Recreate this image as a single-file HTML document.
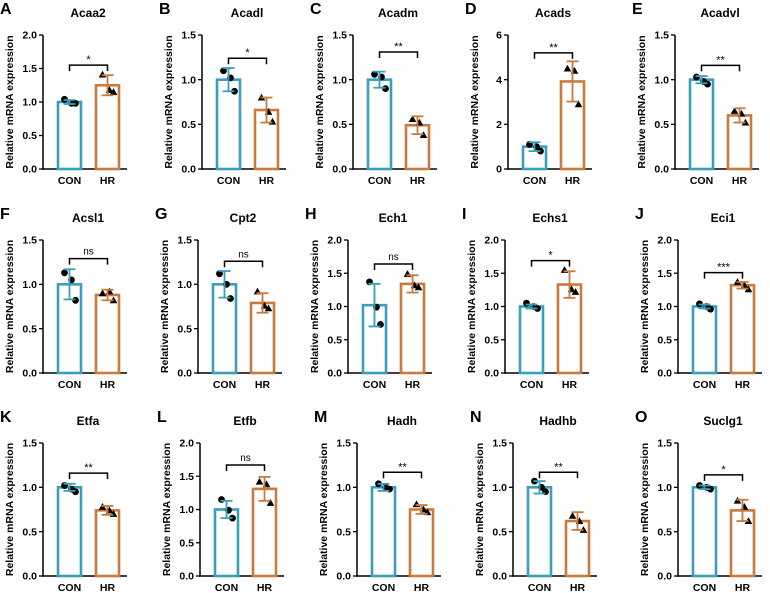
<!DOCTYPE html>
<html><head><meta charset="utf-8"><style>
html,body{margin:0;padding:0;background:#fff;}
svg{display:block;font-family:"Liberation Sans",Arial,sans-serif;}
</style></head><body>
<svg id="fig" width="770" height="593" viewBox="0 0 770 593" xmlns="http://www.w3.org/2000/svg"></svg>
<script>
const letters=["A","B","C","D","E","F","G","H","I","J","K","L","M","N","O"];
const genes=["Acaa2","Acadl","Acadm","Acads","Acadvl","Acsl1","Cpt2","Ech1","Echs1","Eci1","Etfa","Etfb","Hadh","Hadhb","Suclg1"];
const yMax=[2,1.5,1.5,6,1.5,1.5,1.5,2,2,2,1.5,2,1.5,1.5,1.5];
const yStep=[0.5,0.5,0.5,2,0.5,0.5,0.5,0.5,0.5,0.5,0.5,0.5,0.5,0.5,0.5];
const conMean=[1.0,1.0,1.0,1.0,1.0,1.0,1.0,1.02,1.0,1.0,1.0,1.0,1.0,1.0,1.0];
const conSd=[0.03,0.13,0.09,0.2,0.04,0.17,0.15,0.32,0.03,0.03,0.04,0.13,0.04,0.07,0.02];
const conPts=[[1.04,0.98,0.98],[1.1,1.02,0.87],[1.06,1.03,0.9],[1.1,1.0,0.8],[1.03,0.98,0.95],[1.13,1.05,0.82],[1.12,1.0,0.84],[1.37,0.99,0.73],[1.05,1.0,0.97],[1.04,1.0,0.96],[1.02,0.98,0.95],[1.15,0.99,0.87],[1.04,1.0,0.98],[1.07,1.0,0.95],[1.02,1.0,0.98]];
const hrMean=[1.25,0.66,0.49,3.92,0.6,0.88,0.79,1.34,1.33,1.32,0.74,1.31,0.75,0.62,0.74];
const hrSd=[0.15,0.14,0.1,0.9,0.08,0.06,0.11,0.13,0.2,0.05,0.05,0.18,0.05,0.1,0.12];
const hrPts=[[1.41,1.18,1.15],[0.8,0.64,0.53],[0.56,0.52,0.38],[4.5,4.4,2.9],[0.65,0.62,0.52],[0.9,0.92,0.82],[0.92,0.76,0.73],[1.49,1.32,1.29],[1.55,1.26,1.22],[1.37,1.32,1.26],[0.78,0.74,0.7],[1.42,1.38,1.1],[0.81,0.75,0.72],[0.68,0.62,0.52],[0.85,0.78,0.62]];
const sigLabels=["*","*","**","**","**","ns","ns","ns","*","***","**","ns","**","**","*"];
const bracketY=[1.55,1.24,1.31,5.2,1.16,1.29,1.26,1.64,1.69,1.51,1.16,1.67,1.17,1.17,1.14];
const groupLabels=["CON","HR"];

const axisXs=[[43,202,353,508,675],[43,198,348,505,678],[43,200,357,513,678]];
const rowTop=[35,240,443], rowZero=[169,373,576];
const TEAL="#3a9fb8", ORANGE="#c97a3c";
const NS="http://www.w3.org/2000/svg";
const svg=document.getElementById("fig");
function mk(tag,attrs,parent){const e=document.createElementNS(NS,tag);for(const k in attrs)e.setAttribute(k,attrs[k]);(parent||svg).appendChild(e);return e;}

for(let i=0;i<15;i++){
  const r=Math.floor(i/5), c=i%5;
  const ax=axisXs[r][c], top=rowTop[r], zero=rowZero[r];
  const y=v=>zero-(v/yMax[i])*(zero-top);
  const g=mk("g",{});
  
  
  const L=mk("text",{x:ax-43,y:top-21,"font-size":16,"font-weight":"bold"},g);L.textContent=letters[i];
  
  
  const T=mk("text",{x:ax+45,y:top-18,"font-size":12,"font-weight":"bold","text-anchor":"middle"},g);T.textContent=genes[i];
  
  
  const yt=mk("text",{x:0,y:0,"font-size":10.5,"font-weight":"bold","text-anchor":"middle",transform:`translate(${ax-30},${(top+zero)/2}) rotate(-90)`},g);yt.textContent="Relative mRNA expression";
  
  
  const ya=mk("line",{x1:ax,y1:top,x2:ax,y2:zero+0.7,stroke:"#000","stroke-width":1.5},g);
  
  
  const xa=mk("line",{x1:ax-0.7,y1:zero,x2:ax+84,y2:zero,stroke:"#000","stroke-width":1.5},g);
  
  
  for(let v=0;v<=yMax[i]+1e-9;v+=yStep[i]){
    mk("line",{x1:ax-4,y1:y(v),x2:ax,y2:y(v),stroke:"#000","stroke-width":1.3},g);
    const t=mk("text",{x:ax-6,y:y(v)+3.7,"font-size":10.5,"font-weight":"bold","text-anchor":"end"},g);
    t.textContent=yStep[i]>=1?String(Math.round(v)):v.toFixed(1);
    
    
  }
  const groups=[{m:conMean[i],sd:conSd[i],p:conPts[i],col:TEAL,x0:ax+15,tri:false},{m:hrMean[i],sd:hrSd[i],p:hrPts[i],col:ORANGE,x0:ax+53,tri:true}];
  groups.forEach((gr,k)=>{
    const w=23, cx=gr.x0+w/2;
    const b=mk("rect",{x:gr.x0,y:y(gr.m),width:w,height:zero-y(gr.m),fill:"#fff",stroke:gr.col,"stroke-width":2.6},g);
    
    
    const offs=[-5,2,6];
    gr.p.forEach((v,j)=>{
      const px=cx+offs[j], py=y(v);
      let d;
      if(gr.tri) d=mk("polygon",{points:`${px},${py-3.8} ${px-3.8},${py+3} ${px+3.8},${py+3}`,fill:"#000"},g);
      else d=mk("circle",{cx:px,cy:py,r:3.4,fill:"#000"},g);
      
      
    });
    const hi=y(gr.m+gr.sd), lo=y(gr.m-gr.sd);
    mk("line",{x1:cx,y1:hi,x2:cx,y2:lo,stroke:gr.col,"stroke-width":1.8},g);
    mk("line",{x1:cx-6,y1:hi,x2:cx+6,y2:hi,stroke:gr.col,"stroke-width":1.8},g);
    mk("line",{x1:cx-6,y1:lo,x2:cx+6,y2:lo,stroke:gr.col,"stroke-width":1.8},g);
    const xl=mk("text",{x:cx,y:zero+15,"font-size":10.5,"font-weight":"bold","text-anchor":"middle"},g);
    xl.textContent=groupLabels[k];
    
    
  });
  const by=y(bracketY[i]), c1=ax+26.5, c2=ax+64.5;
  const br=mk("path",{d:`M${c1},${by+6}V${by}H${c2}V${by+6}`,fill:"none",stroke:"#000","stroke-width":1.5},g);
  
  
  const st=mk("text",{x:(c1+c2)/2,y:sigLabels[i]==="ns"?by-4:by-2,"font-size":sigLabels[i]==="ns"?10:11,"text-anchor":"middle"},g);
  st.textContent=sigLabels[i];
  
  
}
</script>
</body></html>
